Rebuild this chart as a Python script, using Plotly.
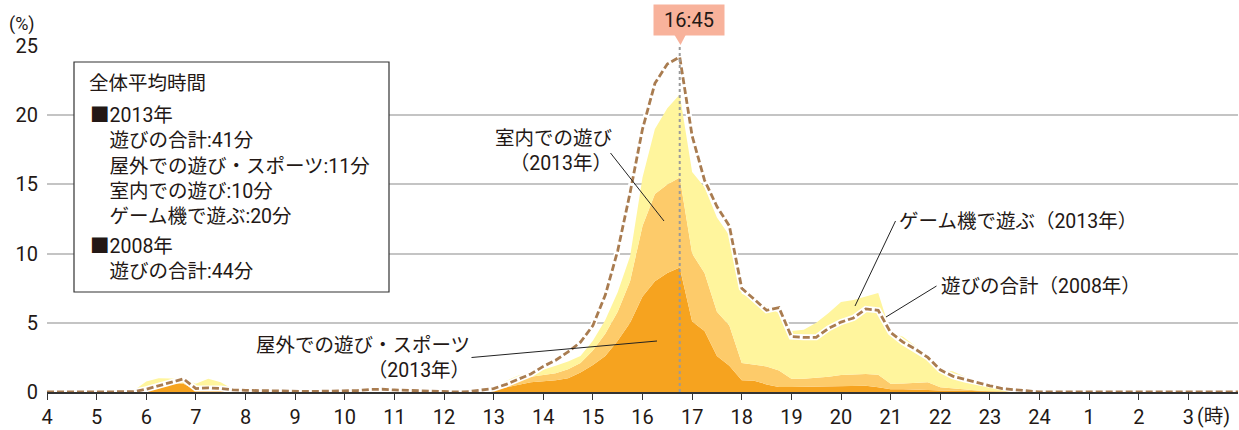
import plotly.graph_objects as go

# Quarter-hour time slots from 4:00 to 4:00 next day (hours, 24 -> 28)
slots = [4 + q / 4 for q in range(97)]

# 2013: share of children doing each activity in each slot (%)
outdoor_2013 = [
    0, 0, 0, 0, 0, 0, 0,
    0.05, 0.35, 0.6, 0.65, 0.6, 0.15, 0.15, 0.12, 0.1, 0.05, 0.03, 0.02, 0,
    0.01, 0.01, 0.01, 0.01, 0.01, 0.01, 0.01, 0.01, 0.01, 0.01, 0.01, 0.01, 0.01, 0.01, 0.01,
    0.03, 0.15, 0.35, 0.55, 0.7, 0.77, 0.85, 1.0, 1.4, 1.95, 2.6, 3.7, 5.0, 6.9, 8.0, 8.6, 9.0,
    5.1, 4.4, 2.6, 1.9, 0.85, 0.82, 0.55, 0.36, 0.36, 0.37, 0.38, 0.4, 0.4, 0.42, 0.45, 0.35,
    0.2, 0.2, 0.2, 0.15, 0.1, 0.08, 0.05, 0.03, 0.02, 0, 0, 0,
    0, 0, 0, 0, 0, 0, 0, 0, 0, 0, 0, 0, 0, 0, 0, 0, 0,
]
indoor_2013 = [
    0, 0, 0, 0, 0, 0, 0,
    0, 0.05, 0.05, 0.05, 0.05, 0.05, 0.1, 0.08, 0.02, 0, 0, 0, 0,
    0.01, 0.01, 0.01, 0.01, 0.01, 0.01, 0.01, 0.01, 0.01, 0.01, 0.01, 0.01, 0.01, 0.01, 0.01,
    0.02, 0.1, 0.25, 0.4, 0.4, 0.43, 0.5, 0.65, 0.7, 1.05, 1.6, 2.1, 3.0, 5.1, 6.3, 6.4, 6.5,
    4.9, 4.2, 3.2, 2.9, 1.25, 1.18, 1.3, 1.19, 0.59, 0.58, 0.62, 0.7, 0.82, 0.86, 0.85, 0.9,
    0.4, 0.42, 0.45, 0.55, 0.25, 0.17, 0.13, 0.07, 0.03, 0.03, 0.02, 0,
    0, 0, 0, 0, 0, 0, 0, 0, 0, 0, 0, 0, 0, 0, 0, 0, 0,
]
game_2013 = [
    0, 0, 0, 0, 0, 0, 0,
    0.05, 0.35, 0.35, 0.3, 0.3, 0.4, 0.7, 0.5, 0.08, 0.05, 0.02, 0.01, 0.02,
    0.01, 0.01, 0.01, 0.01, 0.01, 0.01, 0.01, 0.01, 0.01, 0.01, 0.01, 0.01, 0.01, 0.01, 0.01,
    0.05, 0.1, 0.2, 0.25, 0.3, 0.4, 0.55, 0.55, 0.5, 0.7, 1.0, 1.4, 1.8, 3.5, 4.7, 5.5, 6.0,
    5.9, 6.2, 6.8, 6.5, 5.0, 4.7, 4.35, 4.15, 3.45, 3.55, 4.0, 4.6, 5.28, 5.37, 5.6, 5.9,
    3.7, 3.38, 2.65, 1.9, 1.25, 1.25, 0.92, 0.75, 0.6, 0.42, 0.23, 0.1,
    0, 0, 0, 0, 0, 0, 0, 0, 0, 0, 0, 0, 0, 0, 0, 0, 0,
]
# 2008: total play
total_2008 = [
    0, 0, 0, 0, 0, 0, 0,
    0.02, 0.2, 0.45, 0.65, 0.95, 0.25, 0.3, 0.25, 0.15, 0.12, 0.1, 0.05, 0.03,
    0.02, 0.04, 0.05, 0.05, 0.06, 0.1, 0.18, 0.2, 0.15, 0.12, 0.1, 0.08, 0.03, 0.0, 0.03,
    0.12, 0.25, 0.55, 0.95, 1.3, 1.85, 2.3, 2.9, 3.6, 4.8, 7.0, 10.2, 14.4, 19.0, 22.3, 23.7, 24.2,
    18.5, 15.3, 13.4, 12.0, 7.5, 6.7, 5.9, 6.1, 4.0, 3.95, 3.95, 4.6, 5.05, 5.35, 6.0, 5.9,
    4.3, 3.6, 3.1, 2.5, 1.6, 1.15, 0.9, 0.7, 0.45, 0.25, 0.15, 0.05,
    0, 0, 0, 0, 0, 0, 0, 0, 0, 0, 0, 0, 0, 0, 0, 0, 0,
]

tick_hours = list(range(4, 28))
tick_labels = [str(h) for h in range(4, 25)] + ["1", "2", "3"]
y_ticks = [0, 5, 10, 15, 20, 25]
peak_time = 16.75
peak_label = "16:45"

summary_title = "全体平均時間"
summary_2013 = ["■2013年", "遊びの合計:41分", "屋外での遊び・スポーツ:11分",
                "室内での遊び:10分", "ゲーム機で遊ぶ:20分"]
summary_2008 = ["■2008年", "遊びの合計:44分"]

# Latin glyphs from Roboto, Japanese glyphs from Noto Sans CJK JP
FONT = "Roboto, 'Noto Sans CJK JP'"
INK = "#231815"
C_OUT = "#F6A31F"
C_IN = "#FDCB6A"
C_GAME = "#FFF59D"
C_2008 = "#A97C50"

W, H = 1239, 430
ML, MR, MT, MB = 47, 1, 46, 38


def fx(px):
    return (px - ML) / (W - ML - MR)


def fy(py):
    return (H - MB - py) / (H - MT - MB)


fig = go.Figure()
for name, vals, col in [
    ("屋外での遊び・スポーツ", outdoor_2013, C_OUT),
    ("室内での遊び", indoor_2013, C_IN),
    ("ゲーム機で遊ぶ", game_2013, C_GAME),
]:
    fig.add_trace(go.Scatter(
        x=slots, y=vals, name=name, stackgroup="y2013", mode="lines",
        line=dict(width=0, color=col), fillcolor=col, hoverinfo="skip",
    ))

# 2008 total: white halo under a brown dashed line
fig.add_trace(go.Scatter(x=slots, y=total_2008, mode="lines",
                         line=dict(color="white", width=6), hoverinfo="skip"))
fig.add_trace(go.Scatter(x=slots, y=total_2008, mode="lines", name="遊びの合計(2008年)",
                         line=dict(color=C_2008, width=2.8, dash="7px,3px")))

shapes = []
# peak marker: dotted vertical line and pointer under the time label
shapes.append(dict(type="line", xref="x", yref="paper", x0=peak_time, x1=peak_time,
                   y0=0, y1=1, line=dict(color="#9a9a9a", width=2, dash="dot"), layer="above"))
shapes.append(dict(type="path", xref="paper", yref="paper",
                   path=f"M{fx(673)},{fy(32.5)} L{fx(687)},{fy(32.5)} L{fx(680.5)},{fy(45)} Z",
                   fillcolor="#F8B29B", line=dict(width=0), layer="above"))
# summary box
shapes.append(dict(type="rect", xref="paper", yref="paper",
                   x0=fx(74), x1=fx(389), y0=fy(292), y1=fy(62),
                   fillcolor="white", line=dict(color="#333", width=1.2), layer="above"))
# leader lines for callouts
for (xa, ya, xb, yb) in [
    (610.5, 153, 664, 221),
    (471.5, 357.5, 657, 341),
    (895.5, 221, 855, 306),
    (936.5, 286, 886, 317),
]:
    shapes.append(dict(type="line", xref="paper", yref="paper",
                       x0=fx(xa), y0=fy(ya), x1=fx(xb), y1=fy(yb),
                       line=dict(color="#222", width=1), layer="above"))

annotations = []


def text(s, x, y, xanchor="left", yanchor="middle", size=19.5, align="left"):
    annotations.append(dict(text=s, xref="paper", yref="paper", x=fx(x), y=fy(y),
                            xanchor=xanchor, yanchor=yanchor, align=align, showarrow=False,
                            borderpad=0,
                            font=dict(family=FONT, size=size, color=INK)))


INDENT = "\u3000"
text("(%)", 8, 24, size=18)
text("(時)", 1196, 416)
text(summary_title, 88, 83)
text("<br>".join([summary_2013[0]] + [INDENT + s for s in summary_2013[1:]]), 89, 103,
     yanchor="top", size=19.5)
text("<br>".join([summary_2008[0]] + [INDENT + s for s in summary_2008[1:]]), 89, 234,
     yanchor="top", size=19.5)
text("室内での遊び<br>\uff082013年\uff09", 613, 151, "right", align="right")
text("屋外での遊び・スポーツ<br>\uff082013年\uff09", 471, 358, "right", align="right")
text("ゲーム機で遊ぶ\uff082013年\uff09", 898, 221)
text("遊びの合計\uff082008年\uff09", 940, 286)
annotations.append(dict(text=peak_label, xref="paper", yref="paper", x=fx(689), y=fy(20.5),
                        xanchor="center", yanchor="middle", showarrow=False,
                        bgcolor="#F8B29B", borderpad=3, width=64,
                        font=dict(family=FONT, size=20, color=INK)))

fig.update_layout(
    width=W, height=H, autosize=False,
    margin=dict(l=ML, r=MR, t=MT, b=MB),
    paper_bgcolor="white", plot_bgcolor="white",
    showlegend=False,
    font=dict(family=FONT, size=20, color=INK),
    shapes=shapes, annotations=annotations,
    xaxis=dict(range=[4, 28], tickvals=tick_hours, ticktext=tick_labels,
               showgrid=False, zeroline=False, showline=True, linecolor="#333", linewidth=1.5,
               ticks="outside", ticklen=6, tickwidth=1.3, tickcolor="#333",
               tickfont=dict(family=FONT, size=20, color=INK), fixedrange=True),
    yaxis=dict(range=[0, 25], tickvals=y_ticks, showgrid=True, gridcolor="#c4c4c4", gridwidth=1.5,
               zeroline=False, showline=False, ticks="", ticklabelstandoff=8,
               tickfont=dict(family=FONT, size=20, color=INK), fixedrange=True),
)

fig.write_html("out.html")
